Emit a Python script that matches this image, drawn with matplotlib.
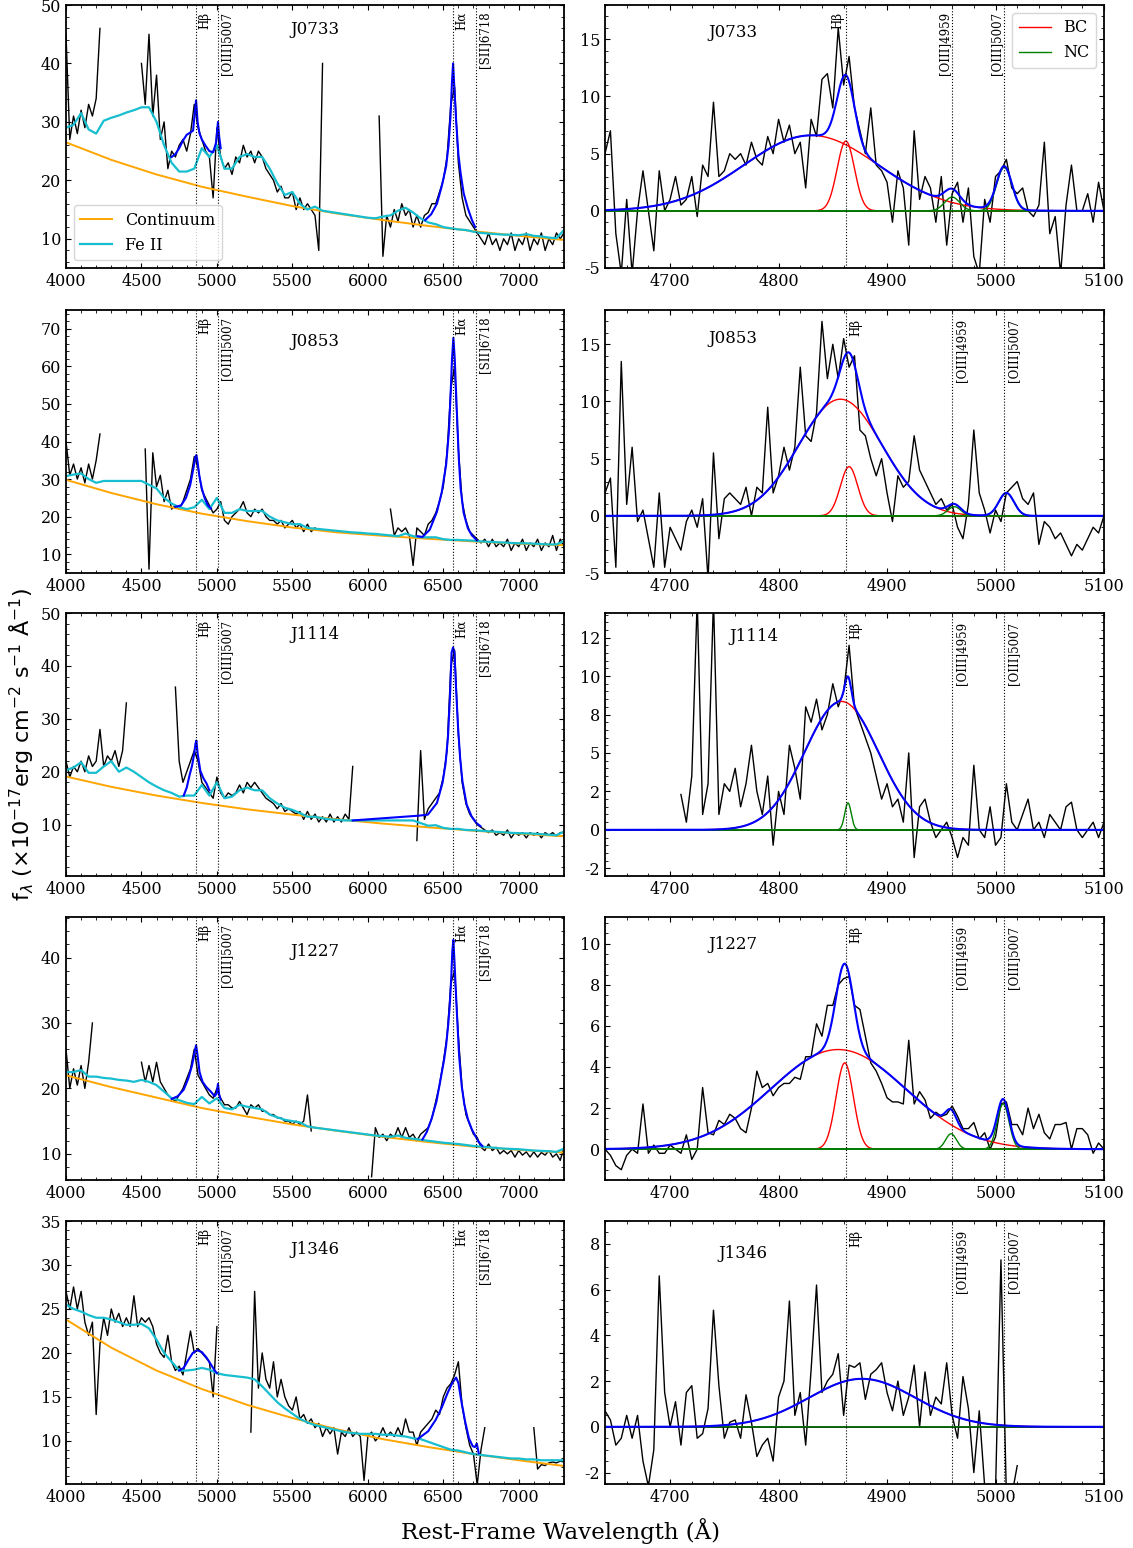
import numpy as np
import matplotlib
matplotlib.use('Agg')
import matplotlib.pyplot as plt
import matplotlib.transforms as mtransforms
from matplotlib.ticker import MultipleLocator, AutoMinorLocator, FormatStrFormatter

plt.rcParams['font.family'] = 'DejaVu Serif'
plt.rcParams['font.size'] = 11.5
plt.rcParams['mathtext.fontset'] = 'dejavusans'
plt.rcParams['axes.unicode_minus'] = False

n = np.nan
names = ['J0733', 'J0853', 'J1114', 'J1227', 'J1346']

# ---- full optical spectra (25 A bins, nan = masked) ----
wave = np.arange(4000, 7301, 25)

flux_J0733 = [45, 27, 31, 28, 32, 29, 33, 31, 34, 46, n, n, n, n, n, n, n, n, n, n,
              40, 33, 45, 31, 38, 27, 30, 22, 25, 24, 26, 27, 25, 28, 33, 29, 27, 25, 24, 17,
              29, 24, 22, 23, 21, 24, 23, 26, 24, 25, 23, 25, 24, 22, 21, 20, 18, 19, 17, 17,
              18, 15, 17, 15, 16, 15, 14, 8, 40, n, n, n, n, n, n, n, n, n, n, n,
              n, n, n, 31, 7, 14, 12, 15, 13, 16, 14, 15, 12, 14, 12, 14, 14.5, 16, 16, 18,
              20, 24, 33, 36, 23, 17, 14, 13, 12, 11, 10, 9, 11, 9, 10, 8, 10, 9, 11, 8,
              10, 9, 11, 8, 10, 9, 11, 8, 10, 9, 11, 10, 11]
flux_J0853 = [40, 31, 34, 30, 33, 29, 34, 30, 35, 42, n, n, n, n, n, n, n, n, n, n,
              n, 38, 6, 37, 28, 31, 24, 27, 22, 23, 22, 24, 27, 30, 36, 33, 27, 25, 23, 21,
              22, 24, 19, 18, 20, 21, 22, 24, 21, 20, 22, 21, 22, 20, 19, 19, 18, 19, 17, 18,
              19, 17, 18, 16, 18, 16, 17, n, n, n, n, n, n, n, n, n, n, n, n, n,
              n, n, n, n, n, n, 22, 15, 17, 16, 17, 15, 7, 17, 16, 15, 18, 19, 21, 24,
              28, 37, 54, 60, 38, 24, 19, 16, 15, 14, 13, 14, 12, 14, 12, 13, 12, 14, 11, 13,
              12, 14, 11, 13, 12, 14, 11, 13, 12, 15, 11, 14, 12]
flux_J1114 = [22, 19, 21, 20, 22, 20, 23, 21, 22, 28, 21, 23, 22, 24, 21, 24, 33, n, n, n,
              n, n, n, n, n, n, n, n, n, 36, 22, 18, 20, 22, 24, 22, 18, 17, 16, 15,
              19, 16, 15, 16, 15.5, 16, 17.5, 16, 18, 17, 18, 17, 16, 15, 14.5, 14, 13, 14, 12.5, 13,
              12.5, 12, 12.5, 11, 12.5, 11, 12, 10.5, 11.5, 10.5, 12, 10.5, 11.5, 10.5, 12, 11, 21, n, n, n,
              n, n, n, n, n, n, n, n, n, n, n, n, n, 7, 24, 11, 13, 14, 15, 16,
              19, 24, 40, 43, 27, 18, 14, 12, 11, 10, 9.5, 9, 8.5, 9, 8, 8.5, 8, 9, 7.5, 8.5,
              8, 8.5, 7.5, 8.5, 8, 8.5, 7.5, 8.5, 8, 8.5, 7.8, 8.5, 8.5]
flux_J1227 = [26, 20, 23, 20.5, 23.5, 20, 24, 30, n, n, n, n, n, n, n, n, n, n, n, n,
              24, 21, 23.5, 21, 24, 21, 20, 19, 18.5, 18, 19, 20, 21.5, 23, 26, 22, 21, 20, 19, 18.5,
              20, 18.5, 17.5, 17.5, 17, 17, 18, 17, 16, 17.5, 17, 17.5, 16.5, 16.5, 16, 16, 15.5, 15.5, 15, 15,
              14.5, 15, 14.5, 15, 19, 13.5, n, n, n, n, n, n, n, n, n, n, n, n, n, n,
              n, 6.5, 14, 12.5, 13, 12, 13, 12.5, 14, 12.5, 14, 12.5, 13, 12, 13, 13.5, 14, 15.5, 18, 20.5,
              24, 28, 36, 38, 28, 20, 16, 14.5, 13, 12.5, 11, 10.5, 11.5, 10.5, 11, 10, 10.5, 10, 10.5, 9.5,
              10.5, 9.8, 10.3, 9.5, 10.3, 9.5, 10.2, 9.8, 10.5, 9.5, 10, 9, 11]
flux_J1346 = [27, 25, 27.5, 25, 27, 23.5, 22, 23.5, 13, 21, 24, 22, 25, 23.5, 24.5, 23, 24, 23, 26.5, 23,
              24, 23.5, 24, 23, 21, 20, 19.5, 22, 19, 18, 18.5, 17.5, 20, 22.5, 20, 20.5, 20, 19.5, 19, 15,
              23, n, n, n, n, n, n, n, n, 11, 27, 16, 20, 17, 16, 19, 15, 17, 15, 14,
              13.5, 15, 12.5, 13, 12, 12.5, 11.5, 12, 10.5, 11.5, 10.8, 11.5, 8.5, 11, 10.5, 11.5, 10.5, 11, 10.5, 5.5,
              10.5, 11, 10, 10.5, 11.5, 10.5, 11, 10.5, 11.5, 10.5, 12.5, 11, 11, 9.5, 11, 11.5, 12, 12.5, 13.5, 13,
              15, 16, 16.5, 17.5, 19, 14, 11.5, 9.5, 8.5, 5, 9, 11.5, n, n, n, n, n, n, n, n,
              n, n, n, n, 11.5, 6.8, 7.3, 7.2, 7.5, 7.6, 7.5, 7.7, 7.6]

# ---- continuum + Fe II template (50 A bins) ----
wave_fe = np.arange(4000, 7301, 50)

fe_J0733 = [29, 29.5, 31.5, 28.7, 28, 30.2, 30.7, 31.1, 31.6, 32.0,
            32.5, 32.5, 30, 26, 23, 21.5, 21.5, 22, 25.5, 24,
            26, 22, 22, 24, 24.5, 24, 24, 22, 19.5, 17.5,
            18, 16, 15, 15.5, 14.8, 14.6, 14.4, 14.2, 14.0, 13.8,
            13.6, 13.5, 13.8, 14.0, 14.8, 15.3, 14.5, 13.5, 12.8, 12.5,
            12.0, 11.8, 11.6, 11.5, 11.2, 11.0, 10.9, 10.8, 10.7, 10.7,
            10.6, 10.8, 10.5, 10.4, 10.2, 10.1, 11.5]
fe_J0853 = [30.8, 31.2, 31.5, 30, 29, 29.5, 29.5, 29.5, 29.5, 29.5,
            29.5, 28.5, 27.5, 25, 23.5, 22.5, 22, 22.5, 24.5, 22,
            25, 21, 21, 22, 21.5, 21.5, 21.5, 20, 19, 18.5,
            18, 18, 17, 16.8, 16.6, 16.4, 16.2, 16.0, 15.8, 15.7,
            15.5, 15.4, 15.2, 15, 14.8, 15.5, 14.8, 14.5, 14.5, 14.5,
            14, 13.8, 13.8, 13.7, 13.6, 13.4, 13.3, 13.2, 13.1, 13.0,
            12.9, 12.9, 12.8, 12.7, 12.6, 12.6, 13.5]
fe_J1114 = [20.3, 20.8, 21.8, 19.8, 19.8, 21.0, 22.0, 20.0, 20.8, 20.0,
            19.0, 18.0, 17.2, 16.5, 16.0, 15.3, 15.5, 15.5, 17.5, 15.5,
            18, 15, 15.3, 16.5, 17, 16.5, 16.5, 15, 14, 13.2,
            12.8, 12.2, 11.5, 11.5, 11.2, 11, 10.9, 10.8, 10.8, 10.8,
            10.8, 10.8, 10.8, 10.8, 10.8, 10.8, 10.8, 10.3, 9.8, 9.9,
            9.4, 9.2, 9.2, 9.0, 8.95, 8.85, 8.75, 8.65, 8.55, 8.45,
            8.4, 8.35, 8.3, 8.2, 8.1, 8.0, 8.7]
fe_J1227 = [22.5, 22.5, 22.8, 21.8, 21.8, 21.6, 21.5, 21.3, 21.2, 21,
            21.3, 21, 20.5, 19.5, 18.5, 18.2, 17.8, 17.6, 18.7, 17.7,
            18.5, 17, 16.8, 17.5, 17.2, 17, 16.8, 16, 15.6, 15.2,
            15, 14.8, 14.2, 14.0, 13.85, 13.7, 13.55, 13.4, 13.25, 13.1,
            12.95, 12.8, 12.7, 12.6, 12.8, 12.45, 12.3, 12.15, 12.0, 11.85,
            11.7, 11.6, 11.5, 11.35, 11.2, 11.1, 11.0, 10.9, 10.8, 10.75,
            10.7, 10.6, 10.5, 10.45, 10.4, 10.3, 10.8]
fe_J1346 = [25.5, 25, 24.7, 24.3, 24, 24, 23.8, 23.5, 23.2, 23.2,
            23.3, 22.8, 21.5, 20, 19, 18, 18, 18.1, 18.3, 18.1,
            17.7, 17.5, 17.4, 17.3, 17.2, 17, 16.2, 15.3, 14.4, 13.7,
            13.1, 12.5, 12.1, 11.8, 11.6, 11.4, 11.2, 11.0, 10.9, 10.8,
            10.8, 10.8, 10.7, 10.7, 10.6, 10.5, 10.3, 10.2, 9.9, 9.6,
            9.3, 9.0, 8.9, 8.7, 8.5, 8.4, 8.3, 8.2, 8.1, 8.0,
            8.0, 7.9, 7.9, 7.8, 7.8, 7.8, 7.8]

# ---- power-law continuum (300 A nodes) ----
wave_cont = np.arange(4000, 7301, 300)

cont_J0733 = [26.5, 23.5, 21.0, 18.9, 17.2, 15.6, 14.3, 13.2, 12.2, 11.3, 10.5, 9.8]
cont_J0853 = [29.8, 26.3, 23.3, 20.8, 18.8, 17.1, 15.8, 14.9, 14.1, 13.4, 12.8, 12.4]
cont_J1114 = [19.1, 17.15, 15.5, 14.1, 12.9, 11.9, 11.0, 10.2, 9.5, 8.86, 8.3, 7.8]
cont_J1227 = [22.0, 20.2, 18.6, 17.0, 15.7, 14.5, 13.5, 12.6, 11.8, 11.1, 10.6, 10.2]
cont_J1346 = [23.8, 20.6, 18.0, 15.9, 14.1, 12.6, 11.3, 10.2, 9.3, 8.5, 7.8, 7.15]

# ---- total model around Hbeta and Halpha ----
hb_wave_J0733 = [4700, 4725, 4750, 4775, 4800, 4825, 4842, 4853, 4862, 4872, 4885, 4900,
                 4925, 4950, 4975, 4995, 5007, 5015, 5025]
hb_flux_J0733 = [24.0, 24.5, 25.5, 26.8, 27.8, 28.2, 28.5, 31.5, 33.7, 30.0, 28.0, 27.0,
                 25.9, 25.0, 24.8, 26.5, 30.0, 27.5, 25.5]
ha_wave_J0733 = [6380, 6420, 6458, 6490, 6519, 6535, 6548, 6558, 6565, 6572, 6586, 6600,
                 6615, 6635, 6663, 6690, 6711]
ha_flux_J0733 = [13.2, 14.2, 16.0, 19.0, 22.4, 26.0, 31.0, 37.0, 40.0, 36.5, 29.9, 24.5,
                 21.2, 17.8, 15.2, 13.2, 12.0]

hb_wave_J0853 = [4725, 4763, 4795, 4823, 4845, 4857, 4864, 4872, 4883, 4900, 4919, 4940, 4960]
hb_flux_J0853 = [22.6, 23.0, 25.0, 28.4, 33.0, 35.8, 36.4, 34.5, 31.0, 27.5, 24.9, 23.0, 22.2]
ha_wave_J0853 = [6330, 6362, 6410, 6458, 6490, 6519, 6538, 6550, 6558, 6567, 6576, 6591,
                 6603, 6615, 6635, 6663, 6690, 6723]
ha_flux_J0853 = [14.8, 14.6, 16.5, 21.3, 26.5, 33.8, 43.0, 54.0, 62.0, 67.6, 62.0, 47.0,
                 35.5, 27.5, 21.0, 16.9, 15.0, 13.7]

hb_wave_J1114 = [4780, 4800, 4820, 4835, 4850, 4858, 4864, 4872, 4890, 4910, 4931, 4950]
hb_flux_J1114 = [15.5, 17.0, 19.5, 21.1, 23.5, 25.3, 25.9, 23.5, 20.2, 18.8, 17.8, 16.5]
ha_wave_J1114 = [5900, 6338, 6398, 6458, 6495, 6515, 6531, 6545, 6555, 6565, 6574, 6586,
                 6598, 6612, 6627, 6655, 6687, 6720, 6747]
ha_flux_J1114 = [10.8, 11.7, 11.9, 14.1, 17.9, 21.5, 26.5, 34.5, 42.5, 43.5, 42.5, 35.0,
                 28.4, 22.5, 18.2, 13.8, 11.6, 10.3, 9.7]

hb_wave_J1227 = [4700, 4740, 4780, 4810, 4835, 4852, 4862, 4872, 4885, 4905, 4930, 4960,
                 4985, 4998, 5007, 5015, 5025]
hb_flux_J1227 = [18.4, 18.8, 19.8, 21.5, 23.5, 25.5, 26.6, 25.0, 22.5, 21.0, 20.2, 19.5,
                 18.8, 19.2, 20.7, 19.0, 18.3]
ha_wave_J1227 = [6362, 6390, 6422, 6455, 6482, 6505, 6519, 6533, 6543, 6553, 6560, 6567,
                 6575, 6583, 6591, 6605, 6622, 6640, 6663, 6690, 6711, 6735, 6759]
ha_flux_J1227 = [12.2, 13.3, 15.3, 18.0, 21.4, 24.3, 26.6, 29.8, 32.7, 37.0, 41.0, 42.7,
                 39.0, 35.0, 31.2, 25.0, 20.4, 17.5, 15.3, 13.7, 12.8, 11.8, 11.2]

hb_wave_J1346 = [4750, 4780, 4810, 4840, 4870, 4900, 4930, 4960, 4985, 5000]
hb_flux_J1346 = [18.0, 18.3, 19.2, 20.0, 20.3, 20.1, 19.5, 18.7, 18.0, 17.7]
ha_wave_J1346 = [6330, 6400, 6450, 6490, 6530, 6560, 6585, 6600, 6620, 6645, 6670, 6695,
                 6710, 6722, 6735]
ha_flux_J1346 = [10.2, 11.1, 12.4, 13.8, 15.5, 16.6, 17.2, 16.6, 14.5, 12.2, 10.3, 9.4,
                 9.3, 9.7, 8.6]

# ---- continuum-subtracted Hbeta region (5 A bins) ----
wave_hb = np.arange(4640, 5101, 5)

resid_J0733 = [5, 7, -2, -5.5, 1, -5.5, 0, 3.5, 0, -3.5, 3.5, 0, 1, 3, 0.5, 1, 3, -0.5, 4, 3,
               9.5, 3, 3.5, 5, 4.5, 5, 4, 6, 4.5, 4, 6.5, 5, 8, 6, 7.5, 5, 6, 2, 8, 6.5,
               11.5, 12, 9, 16, 11, 13.5, 9, 7, 5, 9, 4, 3.5, 2.5, -1, 3.5, 2, -3, 7, 1, 3,
               2, -1, 3, -3, 1.5, 2.5, -1, 2, -4, -5.5, 1, -1, 3, 3.5, 4.5, 2, 1.5, 2, 0, -0.5,
               0.5, 6, -2, -0.5, -5.5, 0.5, 4, 0, 0, 1.5, -1, 2.5, 0]
resid_J0853 = [2, 3.3, -4.5, 13.5, 1, 6, -0.5, 0.5, -2, -4.5, 2, -4.5, -1, -2, -3, -0.5, 0.5, -1, 1.5, -5.5,
               5.5, -2, 1.5, 2, 1.5, 1, 2.5, 0, 2.5, 2, 9.5, 2, 3.5, 6, 4, 6, 13, 7, 6.5, 9,
               17, 12, 15, 12, 15.5, 13, 14, 7.5, 7, 5, 3.5, 5, 2, -0.5, 3.5, 2.5, 3, 7, 4, 3,
               2, 1, 1.5, 0.5, 1, -1, -2, 1, 7.5, 2, 0.5, -1.5, 0.5, -0.5, 2, 2.5, 3, 1.5, 1, 2,
               -2.5, -0.5, -1, -2, -1.5, -2.5, -3.5, -2.5, -3, -2, -1, -1.5, 0]
resid_J1114 = [n, n, n, n, n, n, n, n, n, n, n, n, n, n, 2.3, 0.5, 3.5, 15, 1, 3,
               15, 1, 3, 2.5, 4, 1.5, 3, 5.5, 2.5, 1, 3.5, -1, 2.5, 1, 5.5, 4, 2, 8, 7, 8.5,
               6.5, 7.5, 9.5, 8, 9, 12, 8, 7, 6, 5, 3.5, 2, 3, 1.5, 2, 0.5, 5, -1.8, 1.5, 2,
               0.5, -0.5, 0, 0.5, -0.5, -1.8, -0.5, -1, 4.2, 0, -0.5, 1.5, -1, -0.5, 3, 0.5, 0, 1, 2, 0,
               0.5, -0.5, 1, 0.5, 0, 1.5, 1.8, 0, -0.5, 0, 0.5, -0.5, 0.5]
resid_J1227 = [0, -0.3, -0.8, -1, -0.3, 0, -0.2, 2.2, -0.2, 0.2, -0.2, -0.2, 0.2, 0, -0.2, 0.7, -0.5, 0, 3, 0.8,
               0.7, 1.4, 1.2, 1.7, 1.5, 1, 0.8, 2, 3.8, 3.0, 3.2, 2.6, 3, 3.2, 3.2, 3.5, 3.4, 4.5, 4.5, 6.1,
               5.5, 7, 7, 8, 8.3, 8.4, 7, 6.8, 5.5, 4.2, 3.8, 3.2, 2.5, 2.3, 2.3, 2.2, 5.3, 2.2, 2.8, 2.4,
               1.5, 1.8, 1.6, 1.7, 2.1, 1.6, 1.0, 1.0, 1.3, 0.5, 0.8, 0, 0.6, 2.2, 2.3, 1.2, 1.2, 0.7, 2, 1,
               1.7, 0.8, 0.5, 1.2, 1.2, 1.3, 0, 1, 1, 0.7, -0.2, 0.3, 0]
resid_J1346 = [0.7, 0.3, -0.8, -0.5, 0.5, -0.5, 0.5, -1.5, -2.6, -1, 6.6, 1.5, 0, 1.1, -0.8, 1.5, 1.8, -0.5, -0.3, 0.8,
               5.1, 1.8, -0.5, 0.2, 0.3, -0.5, 1.4, 0.2, -1.3, -0.8, -0.5, -1.5, 1.3, 2, 5.5, 0.5, 1.5, -0.8, 2.5, 6.2,
               1.5, 2, 2.3, 3.2, 0.5, 2.7, 2.6, 2.8, 1.2, 2.3, 2.5, 2.8, 1.5, 0.7, 2.0, 0.5, 1.3, 2.7, 0, 2.4,
               0.5, 1.3, 1.0, 2.8, 0.5, -0.5, 2.2, 0.8, -2, 0.7, -2.6, -3, -2.8, 7.3, -3, -3, -1.7, n, n, n,
               n, n, n, n, n, n, n, n, n, n, n, n, n]

# gaussian fit components: (amplitude, centre, sigma)
bc_J0733 = [(6.6, 4830, 62), (6.1, 4862, 8)]
nc_J0733 = [(1.2, 4960, 7), (3.8, 5008, 7)]
bc_J0853 = [(10.2, 4857, 38.4), (4.3, 4865, 8)]
nc_J0853 = [(0.8, 4962, 6), (2.0, 5010, 7)]
bc_J1114 = [(8.35, 4858, 34)]
nc_J1114 = [(1.75, 4864, 3)]
bc_J1227 = [(4.85, 4855, 62), (4.2, 4861, 8)]
nc_J1227 = [(0.75, 4959, 5), (2.2, 5007, 5.5)]
bc_J1346 = [(2.1, 4877, 49)]
nc_J1346 = []

spectra = [flux_J0733, flux_J0853, flux_J1114, flux_J1227, flux_J1346]
feii = [fe_J0733, fe_J0853, fe_J1114, fe_J1227, fe_J1346]
conts = [cont_J0733, cont_J0853, cont_J1114, cont_J1227, cont_J1346]
hb_models = [(hb_wave_J0733, hb_flux_J0733), (hb_wave_J0853, hb_flux_J0853),
             (hb_wave_J1114, hb_flux_J1114), (hb_wave_J1227, hb_flux_J1227),
             (hb_wave_J1346, hb_flux_J1346)]
ha_models = [(ha_wave_J0733, ha_flux_J0733), (ha_wave_J0853, ha_flux_J0853),
             (ha_wave_J1114, ha_flux_J1114), (ha_wave_J1227, ha_flux_J1227),
             (ha_wave_J1346, ha_flux_J1346)]
resids = [resid_J0733, resid_J0853, resid_J1114, resid_J1227, resid_J1346]
bcs = [bc_J0733, bc_J0853, bc_J1114, bc_J1227, bc_J1346]
ncs = [nc_J0733, nc_J0853, nc_J1114, nc_J1227, nc_J1346]

left_lines = [(4862, 'Hβ'), (5008, '[OIII]5007'), (6565, 'Hα'), (6718, '[SII]6718')]
right_lines = [(4862, 'Hβ'), (4960, '[OIII]4959'), (5008, '[OIII]5007')]

left_ylims = [(5, 50), (5, 75), (0.3, 50), (6, 46.2), (5.1, 35)]
left_ystep = [10, 10, 10, 10, 5]
right_ylims = [(-5, 18), (-5, 18), (-3, 14.1), (-1.5, 11.3), (-2.5, 9)]
right_ystep = [5, 5, 2.5, 2, 2]
left_name_y = [0.905, 0.88, 0.92, 0.867, 0.89]
right_name_pos = [(0.257, 0.897), (0.257, 0.89), (0.298, 0.909), (0.257, 0.897), (0.276, 0.875)]


def gauss(x, amp, cen, sig):
    return amp * np.exp(-0.5 * ((x - cen) / sig) ** 2)


def style_axes(ax):
    ax.tick_params(which='both', direction='in', top=True, right=True)
    ax.tick_params(which='major', length=3.5, width=0.8, labelsize=11.5)
    ax.tick_params(which='minor', length=2, width=0.6)
    ax.xaxis.set_minor_locator(AutoMinorLocator())
    ax.yaxis.set_minor_locator(AutoMinorLocator())
    for sp in ax.spines.values():
        sp.set_linewidth(1.3)


def mark_lines(ax, lines, dx, ha, ytop):
    trans = mtransforms.blended_transform_factory(ax.transData, ax.transAxes)
    for x, lab in lines:
        ax.axvline(x, color='k', ls=':', lw=0.8)
        ax.text(x + dx, ytop, lab, transform=trans, rotation=90, va='top', ha=ha,
                fontsize=8.5)


fig = plt.figure(figsize=(11.33, 15.48), dpi=100)
W, H = 1133., 1548.
row_tops = [5, 310, 613, 917, 1221]
row_h = 263

x_fit = np.linspace(4640, 5100, 1200)

for i, name in enumerate(names):
    bottom = 1 - (row_tops[i] + row_h) / H
    axl = fig.add_axes([66 / W, bottom, 498 / W, row_h / H])
    axr = fig.add_axes([605 / W, bottom, 499 / W, row_h / H])

    # left: full spectrum with continuum, Fe II and line model
    axl.plot(wave, spectra[i], color='k', lw=1.0)
    lc, = axl.plot(wave_cont, conts[i], color='orange', lw=1.4, label='Continuum')
    lf, = axl.plot(wave_fe, feii[i], color='#17becf', lw=1.6, label='Fe II')
    axl.plot(*hb_models[i], color='blue', lw=1.5)
    axl.plot(*ha_models[i], color='blue', lw=1.5)
    mark_lines(axl, left_lines, 12, 'left', 0.975)
    axl.text(0.5, left_name_y[i], name, transform=axl.transAxes, ha='center',
             va='center', fontsize=12)
    axl.set_xlim(4000, 7300)
    axl.set_ylim(*left_ylims[i])
    axl.xaxis.set_major_locator(MultipleLocator(500))
    axl.yaxis.set_major_locator(MultipleLocator(left_ystep[i]))
    style_axes(axl)
    if i == 0:
        axl.legend(handles=[lc, lf], loc='lower left', fontsize=11.5)

    # right: continuum-subtracted H-beta with gaussian decomposition
    axr.plot(wave_hb, resids[i], color='k', lw=1.0)
    axr.axhline(0, color='k', lw=1.2)
    hr = None
    for p in bcs[i]:
        hr, = axr.plot(x_fit, gauss(x_fit, *p), color='red', lw=1.0, label='BC')
    hg, = axr.plot(x_fit, np.zeros_like(x_fit), color='green', lw=1.0, label='NC')
    for p in ncs[i]:
        axr.plot(x_fit, gauss(x_fit, *p), color='green', lw=1.0)
    total = np.zeros_like(x_fit)
    for p in bcs[i] + ncs[i]:
        total += gauss(x_fit, *p)
    axr.plot(x_fit, total, color='blue', lw=1.5)
    if i == 0:
        mark_lines(axr, right_lines, -1, 'right', 0.975)
        axr.legend(handles=[hr, hg], loc='upper right', fontsize=11.5)
    else:
        mark_lines(axr, right_lines, 3, 'left', 0.965)
    axr.text(*right_name_pos[i], name, transform=axr.transAxes, ha='center',
             va='center', fontsize=12)
    axr.set_xlim(4640, 5100)
    axr.set_ylim(*right_ylims[i])
    axr.xaxis.set_major_locator(MultipleLocator(100))
    axr.yaxis.set_major_locator(MultipleLocator(right_ystep[i]))
    axr.yaxis.set_major_formatter(FormatStrFormatter('%.0f'))
    style_axes(axr)

fig.text(0.019, 0.519,
         r'f$_\lambda$ ($\times10^{-17}$erg cm$^{-2}$ s$^{-1}$ Å$^{-1}$)',
         rotation=90, ha='center', va='center', fontsize=16, family='DejaVu Sans')
fig.text(0.495, 0.011, 'Rest-Frame Wavelength (Å)', ha='center', va='center',
         fontsize=16.5)

fig.savefig('out.png', dpi=100)
